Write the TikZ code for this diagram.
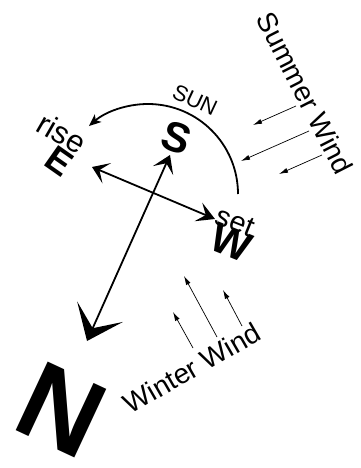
\documentclass[tikz,border=0pt]{standalone}
\usepackage{fontspec}
\setmainfont{Liberation Sans}
\usetikzlibrary{arrows.meta}

\begin{document}
\begin{tikzpicture}[x=1pt, y=-1pt,
    compass/.style={font=\bfseries\fontsize{#1}{#1}\selectfont, inner sep=0pt},
    sidetext/.style={font=\fontsize{#1}{#1}\selectfont, inner sep=0pt},
    wind/.style={-{Latex[length=9pt,width=5pt]}, line width=0.7pt}]
    \useasboundingbox (0,0) rectangle (360,468);

    % Compass letters
    \node[compass=110, rotate=-25] (N) at (61,410) {N};
    \node[compass=42, rotate=-20] (S) at (177,138) {S};
    \node[compass=36, rotate=-35] (E) at (59,161) {E};
    \node[compass=42, rotate=-22] (W) at (231,243) {W};

    % Arrow ends
    \coordinate (nTip) at (87,341);
    \coordinate (sTip) at (170,155);
    \coordinate (eTip) at (92,167);
    \coordinate (wTip) at (215,219);

    % North - south axis
    \draw[line width=1.8pt,
        {Stealth[length=32pt,width=50pt,inset=18pt]}-{Stealth[length=17pt,width=22pt,inset=8pt]}]
        (nTip) -- (sTip);
    % East - west axis
    \draw[line width=1.8pt,
        {Stealth[length=16pt,width=22pt,inset=8pt]}-{Stealth[length=18pt,width=20pt,inset=8pt]}]
        (eTip) -- (wTip);

    % Path of the sun
    \coordinate (sunset) at (238,194);
    \draw[line width=1.8pt, -{Stealth[length=12pt,width=10pt,inset=3pt]}]
        (sunset) arc[start angle=0, end angle=-131, radius=90];
    \node[sidetext=22, rotate=-25] (sun) at (195,100) {SUN};
    \node[sidetext=31, rotate=-30] (rise) at (62,133) {rise};
    \node[sidetext=29, rotate=-22] (set) at (235,222) {set};

    % Winter wind
    \foreach \i/\a/\b/\c/\d in {1/193/348/173/312, 2/217/337/184/276, 3/242/326/223/290}{
        \coordinate (wwFrom\i) at (\a,\b);
        \coordinate (wwTo\i) at (\c,\d);
        \draw[wind] (wwFrom\i) -- (wwTo\i);
    }
    \node[sidetext=28, rotate=30] (winter) at (192,368) {Winter Wind};

    % Summer wind
    \foreach \i/\a/\b/\c/\d in {1/296/106/253/125, 2/309/131/241/161, 3/322/155/279/174}{
        \coordinate (swFrom\i) at (\a,\b);
        \coordinate (swTo\i) at (\c,\d);
        \draw[wind] (swFrom\i) -- (swTo\i);
    }
    \node[sidetext=28, rotate=-63] (summer) at (305,93) {Summer Wind};
\end{tikzpicture}
\end{document}
